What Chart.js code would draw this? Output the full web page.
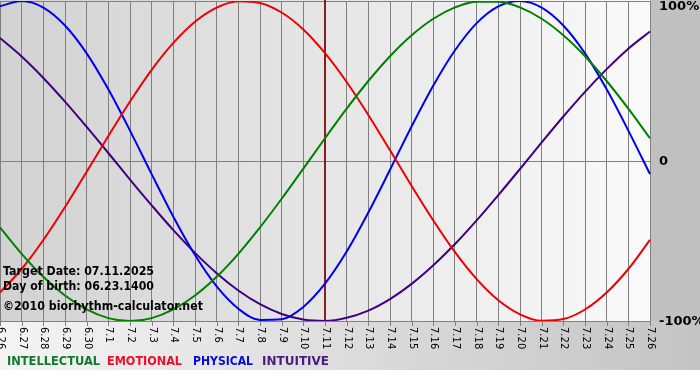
<!DOCTYPE html>
<html>
<head>
<meta charset="utf-8">
<script src="https://cdn.jsdelivr.net/npm/chart.js@4/dist/chart.umd.min.js"></script>
<style>
html,body{margin:0;padding:0;background:#ffffff;}
canvas{display:block;}
</style>
</head>
<body>
<canvas id="c" width="700" height="380"></canvas>
<script>
const days = ["6.26","6.27","6.28","6.29","6.30","7.1","7.2","7.3","7.4","7.5","7.6","7.7","7.8","7.9","7.10","7.11","7.12","7.13","7.14","7.15","7.16","7.17","7.18","7.19","7.20","7.21","7.22","7.23","7.24","7.25","7.26"];
const intellectual = [-0.415,-0.580,-0.724,-0.841,-0.928,-0.982,-1.0,-0.982,-0.928,-0.841,-0.724,-0.580,-0.415,-0.236,-0.048,0.142,0.327,0.5,0.655,0.786,0.889,0.960,0.996,0.996,0.960,0.889,0.786,0.655,0.5,0.327,0.142];
const emotional = [-0.822,-0.675,-0.494,-0.288,-0.067,0.156,0.372,0.570,0.738,0.870,0.958,0.998,0.988,0.928,0.822,0.674,0.494,0.288,0.067,-0.156,-0.372,-0.570,-0.738,-0.870,-0.958,-0.998,-0.988,-0.928,-0.822,-0.675,-0.493];
const physical = [0.967,1.0,0.959,0.847,0.673,0.448,0.190,-0.082,-0.348,-0.588,-0.784,-0.923,-0.993,-0.989,-0.912,-0.767,-0.566,-0.322,-0.055,0.217,0.472,0.692,0.862,0.967,1.0,0.959,0.847,0.673,0.448,0.190,-0.082];
const intuitive = [0.769,0.653,0.519,0.371,0.213,0.050,-0.116,-0.277,-0.432,-0.574,-0.701,-0.809,-0.895,-0.956,-0.991,-1.0,-0.980,-0.935,-0.863,-0.768,-0.652,-0.519,-0.371,-0.213,-0.050,0.116,0.278,0.432,0.574,0.702,0.809];
const seriesNames = ["INTELLECTUAL","EMOTIONAL","PHYSICAL","INTUITIVE"];
const yTickValues = [1, 0, -1];
const yTickLabels = ["100%","0","-100%"];
const targetDay = "7.11";
const infoLines = ["Target Date: 07.11.2025","Day of birth: 06.23.1400","©2010 biorhythm-calculator.net"];

const colors = ["#008000","#ee0000","#0000ee","#400080"];
const legendColors = ["#107a2a","#e8102a","#0a0ad8","#4a1a80"];

const decor = {
  id: 'decor',
  beforeDraw(chart) {
    const ctx = chart.ctx, a = chart.chartArea;
    ctx.save();
    ctx.fillStyle = '#ffffff';
    ctx.fillRect(0, 0, 700, 380);
    let g = ctx.createLinearGradient(0, 0, 700, 0);
    g.addColorStop(0, '#f4f4f4');
    g.addColorStop(1, '#c4c4c4');
    ctx.fillStyle = g;
    ctx.fillRect(0, a.bottom, 700, 370 - a.bottom);
    ctx.fillStyle = '#c0c0c0';
    ctx.fillRect(a.right, 0, 700 - a.right, a.bottom);
    g = ctx.createLinearGradient(a.left, 0, a.right, 0);
    g.addColorStop(0, '#d2d2d2');
    g.addColorStop(1, '#fafafa');
    ctx.fillStyle = g;
    ctx.fillRect(a.left, 0, a.right - a.left, a.bottom);
    ctx.restore();
  },
  beforeDatasetsDraw(chart) {
    const ctx = chart.ctx, a = chart.chartArea, xs = chart.scales.x;
    const x = Math.round(xs.getPixelForValue(days.indexOf(targetDay)));
    ctx.save();
    ctx.strokeStyle = '#8a1c1c';
    ctx.lineWidth = 2;
    ctx.beginPath();
    ctx.moveTo(x, 0);
    ctx.lineTo(x, a.bottom);
    ctx.stroke();
    ctx.restore();
  },
  afterDraw(chart) {
    const ctx = chart.ctx, a = chart.chartArea, xs = chart.scales.x, ys = chart.scales.y;
    ctx.save();
    ctx.strokeStyle = '#808080';
    ctx.lineWidth = 1;
    ctx.fillStyle = '#000000';
    ctx.font = '10px "DejaVu Sans", Verdana, sans-serif';
    ctx.textAlign = 'left';
    ctx.textBaseline = 'middle';
    days.forEach((d, i) => {
      const x = Math.round(xs.getPixelForValue(i)) + 0.5;
      ctx.beginPath();
      ctx.moveTo(x, a.bottom);
      ctx.lineTo(x, a.bottom + 5);
      ctx.stroke();
      ctx.save();
      ctx.translate(x, a.bottom + 6);
      ctx.rotate(Math.PI / 2);
      ctx.fillText(d, 0, 0);
      ctx.restore();
    });
    ctx.font = 'bold 13px "DejaVu Sans", Verdana, sans-serif';
    const yOff = [6, 1, 1];
    yTickValues.forEach((v, i) => {
      ctx.fillText(yTickLabels[i], a.right + 9, ys.getPixelForValue(v) + yOff[i]);
    });
    ctx.font = 'bold 13px "DejaVu Sans", Verdana, sans-serif';
    const infoY = [272, 287, 307];
    const infoW = [151, 151, 200];
    infoLines.forEach((t, i) => ctx.fillText(t, 3, infoY[i], infoW[i]));
    ctx.font = 'bold 12px "DejaVu Sans", Verdana, sans-serif';
    const lx = [7, 107, 193, 262];
    const lw = [93, 75, 60, 67];
    seriesNames.forEach((n, i) => {
      ctx.fillStyle = legendColors[i];
      ctx.fillText(n, lx[i], 362, lw[i]);
    });
    ctx.restore();
  }
};

new Chart(document.getElementById('c'), {
  type: 'line',
  data: {
    labels: days,
    datasets: [
      { label: seriesNames[0], data: intellectual, borderColor: colors[0] },
      { label: seriesNames[1], data: emotional, borderColor: colors[1] },
      { label: seriesNames[2], data: physical, borderColor: colors[2] },
      { label: seriesNames[3], data: intuitive, borderColor: colors[3] }
    ].map(d => Object.assign(d, { borderWidth: 2, pointRadius: 0, cubicInterpolationMode: 'monotone', fill: false }))
  },
  options: {
    responsive: false,
    animation: false,
    devicePixelRatio: 1,
    layout: { padding: { left: 0, top: 1, right: 50, bottom: 59 } },
    plugins: { legend: { display: false }, tooltip: { enabled: false } },
    scales: {
      x: {
        type: 'category',
        offset: false,
        ticks: { display: false },
        grid: { color: '#808080', drawTicks: false, lineWidth: 1 },
        border: { display: false }
      },
      y: {
        min: -1, max: 1,
        ticks: { display: false, stepSize: 1 },
        grid: { color: '#808080', drawTicks: false, lineWidth: 1 },
        border: { display: false }
      }
    }
  },
  plugins: [decor]
});
</script>
</body>
</html>
